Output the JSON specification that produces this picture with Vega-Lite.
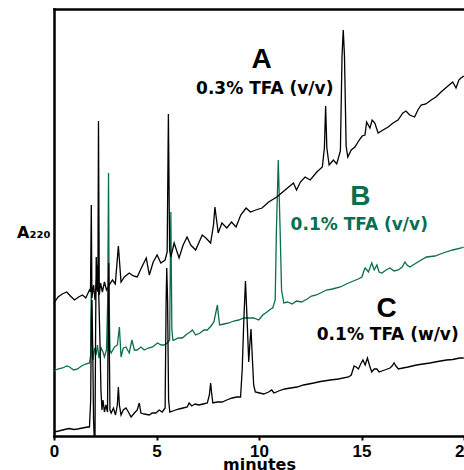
{
  "$schema": "https://vega.github.io/schema/vega-lite/v6.json",
  "autosize": "none",
  "width": 410,
  "height": 427,
  "padding": {"left": 54, "top": 9, "right": 0, "bottom": 34},
  "background": "white",
  "config": {"view": {"stroke": null}},
  "datasets": {
    "trace": [
      {"s":"B","t":0.00,"a":65},{"s":"B","t":0.18,"a":67},{"s":"B","t":0.42,"a":68},{"s":"B","t":0.62,"a":70},{"s":"B","t":0.76,"a":69},{"s":"B","t":0.96,"a":66},{"s":"B","t":1.15,"a":67},{"s":"B","t":1.34,"a":70},{"s":"B","t":1.54,"a":72},{"s":"B","t":1.73,"a":73},{"s":"B","t":1.79,"a":81},{"s":"B","t":1.82,"a":156},{"s":"B","t":1.85,"a":106},{"s":"B","t":1.90,"a":76},{"s":"B","t":1.98,"a":88},{"s":"B","t":2.05,"a":81},{"s":"B","t":2.12,"a":91},{"s":"B","t":2.19,"a":78},{"s":"B","t":2.30,"a":88},{"s":"B","t":2.39,"a":84},{"s":"B","t":2.46,"a":79},{"s":"B","t":2.56,"a":86},{"s":"B","t":2.62,"a":136},{"s":"B","t":2.66,"a":263},{"s":"B","t":2.69,"a":136},{"s":"B","t":2.73,"a":86},{"s":"B","t":2.79,"a":83},{"s":"B","t":2.95,"a":89},{"s":"B","t":3.09,"a":91},{"s":"B","t":3.19,"a":109},{"s":"B","t":3.27,"a":79},{"s":"B","t":3.38,"a":88},{"s":"B","t":3.51,"a":89},{"s":"B","t":3.67,"a":83},{"s":"B","t":3.80,"a":96},{"s":"B","t":3.92,"a":86},{"s":"B","t":4.06,"a":86},{"s":"B","t":4.24,"a":89},{"s":"B","t":4.40,"a":86},{"s":"B","t":4.60,"a":88},{"s":"B","t":4.81,"a":89},{"s":"B","t":5.05,"a":93},{"s":"B","t":5.23,"a":91},{"s":"B","t":5.37,"a":91},{"s":"B","t":5.53,"a":93},{"s":"B","t":5.64,"a":96},{"s":"B","t":5.70,"a":224},{"s":"B","t":5.75,"a":106},{"s":"B","t":5.80,"a":96},{"s":"B","t":5.86,"a":96},{"s":"B","t":6.05,"a":98},{"s":"B","t":6.26,"a":98},{"s":"B","t":6.49,"a":102},{"s":"B","t":6.64,"a":104},{"s":"B","t":6.75,"a":106},{"s":"B","t":6.91,"a":101},{"s":"B","t":7.12,"a":103},{"s":"B","t":7.32,"a":106},{"s":"B","t":7.48,"a":106},{"s":"B","t":7.66,"a":110},{"s":"B","t":7.80,"a":114},{"s":"B","t":7.90,"a":124},{"s":"B","t":7.97,"a":131},{"s":"B","t":8.02,"a":121},{"s":"B","t":8.08,"a":111},{"s":"B","t":8.29,"a":112},{"s":"B","t":8.53,"a":113},{"s":"B","t":8.77,"a":115},{"s":"B","t":9.01,"a":116},{"s":"B","t":9.26,"a":118},{"s":"B","t":9.50,"a":118},{"s":"B","t":9.74,"a":118},{"s":"B","t":9.99,"a":116},{"s":"B","t":10.18,"a":121},{"s":"B","t":10.39,"a":124},{"s":"B","t":10.57,"a":127},{"s":"B","t":10.67,"a":128},{"s":"B","t":10.79,"a":136},{"s":"B","t":10.85,"a":206},{"s":"B","t":10.94,"a":276},{"s":"B","t":11.03,"a":206},{"s":"B","t":11.10,"a":146},{"s":"B","t":11.21,"a":133},{"s":"B","t":11.39,"a":134},{"s":"B","t":11.62,"a":132},{"s":"B","t":11.83,"a":135},{"s":"B","t":12.07,"a":134},{"s":"B","t":12.35,"a":137},{"s":"B","t":12.56,"a":140},{"s":"B","t":12.80,"a":141},{"s":"B","t":13.00,"a":143},{"s":"B","t":13.29,"a":146},{"s":"B","t":13.58,"a":147},{"s":"B","t":13.97,"a":149},{"s":"B","t":14.26,"a":152},{"s":"B","t":14.60,"a":155},{"s":"B","t":14.84,"a":157},{"s":"B","t":15.02,"a":159},{"s":"B","t":15.13,"a":166},{"s":"B","t":15.18,"a":168},{"s":"B","t":15.34,"a":164},{"s":"B","t":15.50,"a":173},{"s":"B","t":15.62,"a":166},{"s":"B","t":15.75,"a":171},{"s":"B","t":15.86,"a":164},{"s":"B","t":15.99,"a":163},{"s":"B","t":16.20,"a":166},{"s":"B","t":16.39,"a":168},{"s":"B","t":16.59,"a":165},{"s":"B","t":16.80,"a":166},{"s":"B","t":16.98,"a":169},{"s":"B","t":17.12,"a":174},{"s":"B","t":17.22,"a":171},{"s":"B","t":17.36,"a":169},{"s":"B","t":17.75,"a":174},{"s":"B","t":18.17,"a":179},{"s":"B","t":18.58,"a":180},{"s":"B","t":18.98,"a":183},{"s":"B","t":19.45,"a":186},{"s":"B","t":19.87,"a":188},{"s":"B","t":19.99,"a":189},

      {"s":"A","t":0.00,"a":133},{"s":"A","t":0.20,"a":139},{"s":"A","t":0.40,"a":142},{"s":"A","t":0.62,"a":144},{"s":"A","t":0.80,"a":140},{"s":"A","t":1.00,"a":136},{"s":"A","t":1.20,"a":139},{"s":"A","t":1.39,"a":141},{"s":"A","t":1.55,"a":138},{"s":"A","t":1.73,"a":146},{"s":"A","t":1.78,"a":144},{"s":"A","t":1.82,"a":231},{"s":"A","t":1.85,"a":138},{"s":"A","t":1.93,"a":151},{"s":"A","t":2.00,"a":136},{"s":"A","t":2.07,"a":156},{"s":"A","t":2.14,"a":144},{"s":"A","t":2.17,"a":315},{"s":"A","t":2.21,"a":141},{"s":"A","t":2.27,"a":153},{"s":"A","t":2.36,"a":144},{"s":"A","t":2.46,"a":154},{"s":"A","t":2.56,"a":146},{"s":"A","t":2.70,"a":151},{"s":"A","t":2.85,"a":156},{"s":"A","t":2.99,"a":152},{"s":"A","t":3.14,"a":190},{"s":"A","t":3.27,"a":154},{"s":"A","t":3.43,"a":159},{"s":"A","t":3.67,"a":163},{"s":"A","t":3.87,"a":160},{"s":"A","t":4.06,"a":159},{"s":"A","t":4.26,"a":168},{"s":"A","t":4.50,"a":178},{"s":"A","t":4.65,"a":161},{"s":"A","t":4.84,"a":174},{"s":"A","t":5.03,"a":181},{"s":"A","t":5.21,"a":173},{"s":"A","t":5.42,"a":176},{"s":"A","t":5.52,"a":184},{"s":"A","t":5.58,"a":322},{"s":"A","t":5.64,"a":186},{"s":"A","t":5.70,"a":179},{"s":"A","t":5.86,"a":193},{"s":"A","t":6.10,"a":178},{"s":"A","t":6.30,"a":191},{"s":"A","t":6.49,"a":199},{"s":"A","t":6.67,"a":191},{"s":"A","t":6.91,"a":186},{"s":"A","t":7.23,"a":201},{"s":"A","t":7.41,"a":198},{"s":"A","t":7.64,"a":193},{"s":"A","t":7.78,"a":211},{"s":"A","t":7.85,"a":229},{"s":"A","t":8.01,"a":203},{"s":"A","t":8.19,"a":213},{"s":"A","t":8.43,"a":208},{"s":"A","t":8.66,"a":214},{"s":"A","t":8.88,"a":209},{"s":"A","t":9.11,"a":221},{"s":"A","t":9.37,"a":228},{"s":"A","t":9.58,"a":224},{"s":"A","t":9.84,"a":226},{"s":"A","t":10.15,"a":228},{"s":"A","t":10.47,"a":234},{"s":"A","t":10.87,"a":239},{"s":"A","t":11.10,"a":243},{"s":"A","t":11.39,"a":248},{"s":"A","t":11.68,"a":253},{"s":"A","t":11.83,"a":246},{"s":"A","t":12.02,"a":254},{"s":"A","t":12.25,"a":259},{"s":"A","t":12.50,"a":256},{"s":"A","t":12.82,"a":264},{"s":"A","t":13.09,"a":269},{"s":"A","t":13.19,"a":288},{"s":"A","t":13.25,"a":330},{"s":"A","t":13.31,"a":288},{"s":"A","t":13.42,"a":271},{"s":"A","t":13.63,"a":276},{"s":"A","t":13.79,"a":272},{"s":"A","t":13.97,"a":285},{"s":"A","t":14.05,"a":380},{"s":"A","t":14.11,"a":406},{"s":"A","t":14.17,"a":380},{"s":"A","t":14.25,"a":290},{"s":"A","t":14.33,"a":279},{"s":"A","t":14.50,"a":286},{"s":"A","t":14.68,"a":289},{"s":"A","t":14.89,"a":296},{"s":"A","t":15.03,"a":300},{"s":"A","t":15.17,"a":301},{"s":"A","t":15.25,"a":314},{"s":"A","t":15.41,"a":308},{"s":"A","t":15.52,"a":316},{"s":"A","t":15.65,"a":313},{"s":"A","t":15.81,"a":303},{"s":"A","t":16.05,"a":306},{"s":"A","t":16.30,"a":309},{"s":"A","t":16.54,"a":313},{"s":"A","t":16.78,"a":316},{"s":"A","t":17.02,"a":323},{"s":"A","t":17.17,"a":325},{"s":"A","t":17.35,"a":321},{"s":"A","t":17.59,"a":319},{"s":"A","t":17.75,"a":326},{"s":"A","t":17.91,"a":331},{"s":"A","t":18.14,"a":332},{"s":"A","t":18.40,"a":336},{"s":"A","t":18.63,"a":339},{"s":"A","t":18.88,"a":344},{"s":"A","t":19.16,"a":349},{"s":"A","t":19.45,"a":354},{"s":"A","t":19.61,"a":348},{"s":"A","t":19.75,"a":356},{"s":"A","t":19.85,"a":358},{"s":"A","t":19.99,"a":360},

      {"s":"C","t":0.00,"a":4},{"s":"C","t":0.23,"a":5},{"s":"C","t":0.42,"a":6},{"s":"C","t":0.62,"a":7},{"s":"C","t":0.76,"a":7.5},{"s":"C","t":0.96,"a":6.5},{"s":"C","t":1.15,"a":7},{"s":"C","t":1.39,"a":8},{"s":"C","t":1.64,"a":9},{"s":"C","t":1.73,"a":9},{"s":"C","t":1.79,"a":36},{"s":"C","t":1.82,"a":116},{"s":"C","t":1.85,"a":136},{"s":"C","t":1.89,"a":86},{"s":"C","t":1.93,"a":16},{"s":"C","t":1.96,"a":0},{"s":"C","t":2.00,"a":0},{"s":"C","t":2.03,"a":106},{"s":"C","t":2.06,"a":179},{"s":"C","t":2.10,"a":146},{"s":"C","t":2.14,"a":171},{"s":"C","t":2.19,"a":136},{"s":"C","t":2.24,"a":96},{"s":"C","t":2.29,"a":46},{"s":"C","t":2.34,"a":26},{"s":"C","t":2.39,"a":36},{"s":"C","t":2.46,"a":24},{"s":"C","t":2.53,"a":31},{"s":"C","t":2.61,"a":24},{"s":"C","t":2.64,"a":106},{"s":"C","t":2.67,"a":173},{"s":"C","t":2.69,"a":106},{"s":"C","t":2.73,"a":26},{"s":"C","t":2.79,"a":23},{"s":"C","t":2.90,"a":28},{"s":"C","t":3.00,"a":21},{"s":"C","t":3.09,"a":31},{"s":"C","t":3.14,"a":49},{"s":"C","t":3.19,"a":31},{"s":"C","t":3.27,"a":21},{"s":"C","t":3.38,"a":26},{"s":"C","t":3.51,"a":28},{"s":"C","t":3.63,"a":24},{"s":"C","t":3.76,"a":19},{"s":"C","t":3.92,"a":23},{"s":"C","t":4.06,"a":26},{"s":"C","t":4.16,"a":33},{"s":"C","t":4.24,"a":23},{"s":"C","t":4.40,"a":22},{"s":"C","t":4.65,"a":21},{"s":"C","t":4.79,"a":23},{"s":"C","t":4.97,"a":23},{"s":"C","t":5.13,"a":26},{"s":"C","t":5.28,"a":24},{"s":"C","t":5.42,"a":28},{"s":"C","t":5.47,"a":136},{"s":"C","t":5.50,"a":168},{"s":"C","t":5.54,"a":136},{"s":"C","t":5.59,"a":36},{"s":"C","t":5.65,"a":24},{"s":"C","t":5.86,"a":25.5},{"s":"C","t":6.10,"a":27},{"s":"C","t":6.30,"a":28},{"s":"C","t":6.50,"a":29},{"s":"C","t":6.59,"a":33},{"s":"C","t":6.72,"a":30},{"s":"C","t":6.88,"a":32},{"s":"C","t":7.07,"a":31},{"s":"C","t":7.27,"a":32},{"s":"C","t":7.48,"a":33},{"s":"C","t":7.58,"a":41},{"s":"C","t":7.64,"a":53},{"s":"C","t":7.70,"a":41},{"s":"C","t":7.75,"a":33},{"s":"C","t":7.95,"a":34},{"s":"C","t":8.20,"a":34},{"s":"C","t":8.43,"a":36},{"s":"C","t":8.69,"a":38},{"s":"C","t":8.92,"a":39},{"s":"C","t":9.10,"a":39},{"s":"C","t":9.18,"a":66},{"s":"C","t":9.26,"a":116},{"s":"C","t":9.34,"a":155},{"s":"C","t":9.42,"a":116},{"s":"C","t":9.50,"a":74},{"s":"C","t":9.55,"a":91},{"s":"C","t":9.61,"a":107},{"s":"C","t":9.68,"a":76},{"s":"C","t":9.74,"a":51},{"s":"C","t":9.82,"a":44},{"s":"C","t":10.03,"a":43},{"s":"C","t":10.23,"a":42},{"s":"C","t":10.47,"a":44},{"s":"C","t":10.62,"a":46},{"s":"C","t":10.73,"a":43},{"s":"C","t":10.96,"a":45},{"s":"C","t":11.25,"a":47},{"s":"C","t":11.54,"a":48},{"s":"C","t":11.86,"a":49},{"s":"C","t":12.17,"a":51},{"s":"C","t":12.67,"a":53},{"s":"C","t":13.00,"a":54.5},{"s":"C","t":13.48,"a":56},{"s":"C","t":13.87,"a":57},{"s":"C","t":14.37,"a":59},{"s":"C","t":14.50,"a":61},{"s":"C","t":14.64,"a":70},{"s":"C","t":14.74,"a":69},{"s":"C","t":14.85,"a":67},{"s":"C","t":14.96,"a":72},{"s":"C","t":15.07,"a":76},{"s":"C","t":15.18,"a":71},{"s":"C","t":15.29,"a":78},{"s":"C","t":15.40,"a":70},{"s":"C","t":15.50,"a":64},{"s":"C","t":15.62,"a":67},{"s":"C","t":15.75,"a":67},{"s":"C","t":15.86,"a":64},{"s":"C","t":15.99,"a":65},{"s":"C","t":16.20,"a":66.5},{"s":"C","t":16.39,"a":68},{"s":"C","t":16.49,"a":70},{"s":"C","t":16.59,"a":73},{"s":"C","t":16.68,"a":70},{"s":"C","t":16.80,"a":67},{"s":"C","t":17.02,"a":68},{"s":"C","t":17.27,"a":69},{"s":"C","t":17.69,"a":71},{"s":"C","t":18.00,"a":72},{"s":"C","t":18.34,"a":73},{"s":"C","t":18.72,"a":74.5},{"s":"C","t":19.15,"a":76},{"s":"C","t":19.45,"a":76.5},{"s":"C","t":19.79,"a":78},{"s":"C","t":19.99,"a":78}
    ],
    "letters": [
      {"s":"A","t":10.13,"a":376,"label":"A"},
      {"s":"B","t":14.94,"a":239,"label":"B"},
      {"s":"C","t":16.23,"a":127,"label":"C"}
    ],
    "notes": [
      {"s":"A","t":10.28,"a":347,"label":"0.3% TFA (v/v)"},
      {"s":"B","t":14.89,"a":211,"label":"0.1% TFA (v/v)"},
      {"s":"C","t":16.28,"a":101,"label":"0.1% TFA (w/v)"}
    ]
  },
  "layer": [
    {
      "data": {"name": "trace"},
      "mark": {"type": "line", "strokeWidth": 1.3, "interpolate": "linear"},
      "encoding": {
        "x": {"field": "t", "type": "quantitative",
          "scale": {"domain": [0, 20], "nice": false},
          "axis": {"orient": "bottom", "values": [0, 5, 10, 15, 20], "grid": false,
            "domain": true, "domainColor": "black", "domainWidth": 2.5, "domainCap": "square",
            "ticks": true, "tickColor": "black", "tickWidth": 2, "tickSize": 4,
            "labelFont": "Liberation Sans", "labelFontWeight": "bold", "labelFontSize": 17,
            "labelColor": "black", "labelPadding": 3, "labelFlush": false,
            "title": "minutes", "titleFont": "DejaVu Sans", "titleFontWeight": "bold",
            "titleFontSize": 16, "titleColor": "black", "titlePadding": -3}},
        "y": {"field": "a", "type": "quantitative",
          "scale": {"domain": [0, 427], "nice": false, "zero": false},
          "axis": {"grid": false, "ticks": false, "labels": false,
            "domain": true, "domainColor": "black", "domainWidth": 2.5, "domainCap": "square",
            "title": "A₂₂₀", "titleFont": "DejaVu Sans", "titleFontWeight": "bold",
            "titleFontSize": 16, "titleColor": "black", "titleAngle": 0,
            "titleAlign": "right", "titleBaseline": "middle", "titleX": -4, "titleY": 223}},
        "color": {"field": "s", "type": "nominal",
          "scale": {"domain": ["A", "B", "C"], "range": ["#000000", "#0b6e4f", "#000000"]},
          "legend": null},
        "detail": {"field": "s"}
      }
    },
    {
      "data": {"name": "letters"},
      "mark": {"type": "text", "font": "Liberation Sans", "fontWeight": "bold", "fontSize": 28, "align": "center", "baseline": "middle"},
      "encoding": {
        "x": {"field": "t", "type": "quantitative",
          "axis": {"orient": "top", "domain": true, "domainColor": "black", "domainWidth": 2.5, "domainCap": "square",
            "ticks": false, "labels": false, "grid": false, "title": null}},
        "y": {"field": "a", "type": "quantitative"},
        "text": {"field": "label"},
        "color": {"field": "s", "type": "nominal", "legend": null}
      }
    },
    {
      "data": {"name": "notes"},
      "mark": {"type": "text", "font": "DejaVu Sans", "fontWeight": "bold", "fontSize": 17, "align": "center", "baseline": "middle"},
      "encoding": {
        "x": {"field": "t", "type": "quantitative", "axis": null},
        "y": {"field": "a", "type": "quantitative"},
        "text": {"field": "label"},
        "color": {"field": "s", "type": "nominal", "legend": null}
      }
    }
  ],
  "resolve": {"axis": {"x": "independent"}}
}
